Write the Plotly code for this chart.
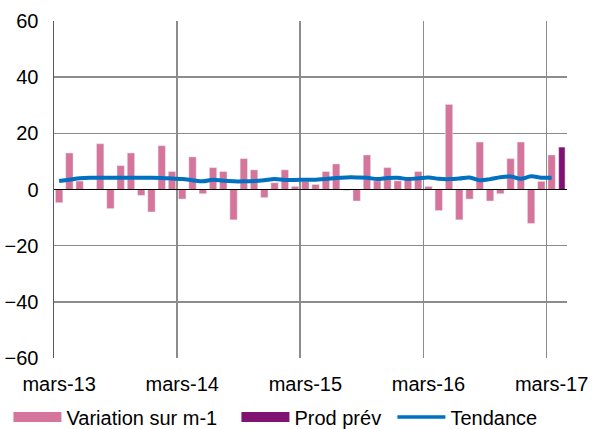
import plotly.graph_objects as go

# Monthly data: mars-13 .. mars-17 (49 months) + forecast avril-17
variation = [-4.7, 13.0, 3.0, 0.2, 16.3, -6.8, 8.5, 13.0, -2.1, -8.0, 15.6, 6.4,
             -3.4, 11.6, -1.5, 7.8, 6.4, -10.8, 11.0, 7.0, -2.9, 2.4, 7.0, 1.1,
             2.9, 1.8, 6.4, 9.1, -0.3, -4.1, 12.3, 3.1, 7.8, 3.1, 3.6, 6.4,
             1.1, -7.5, 30.3, -10.8, -3.4, 16.9, -4.1, -1.5, 11.0, 16.9, -12.1, 2.9,
             12.3]
tendance = [3.0, 3.5, 4.0, 4.2, 4.2, 4.2, 4.2, 4.2, 4.2, 4.2, 4.1, 3.9,
            3.7, 3.3, 2.9, 3.5, 3.1, 2.9, 2.9, 3.0, 3.3, 3.7, 3.4, 3.4,
            3.5, 3.5, 3.7, 4.1, 4.3, 4.3, 4.2, 3.7, 4.1, 4.2, 3.7, 4.0,
            4.3, 3.8, 3.7, 3.9, 4.3, 3.3, 3.7, 4.4, 4.6, 3.8, 4.7, 4.2,
            4.2]
prod_prev = [15.1]
tick_labels = ["mars-13", "mars-14", "mars-15", "mars-16", "mars-17"]

PINK = "#D5759B"
PURPLE = "#7F1273"
BLUE = "#0070C0"
FONT = "Liberation Sans, Arial, sans-serif"

n = len(variation)
x_var = list(range(n))
x_prev = [n + i for i in range(len(prod_prev))]

fig = go.Figure()
fig.add_trace(go.Bar(x=x_var, y=variation, marker_color=PINK, width=0.72,
                     showlegend=False, name="Variation sur m-1"))
fig.add_trace(go.Bar(x=x_prev, y=prod_prev, marker_color=PURPLE, width=0.62,
                     showlegend=False, name="Prod prév"))
fig.add_trace(go.Scatter(x=x_var, y=tendance, mode="lines",
                         line=dict(color=BLUE, width=4, shape="spline"),
                         showlegend=False, name="Tendance"))
# legend entries (each in its own legend box for exact placement)
fig.add_trace(go.Scatter(x=[None], y=[None], mode="lines", name="Variation sur m-1",
                         line=dict(color=PINK, width=10), legend="legend"))
fig.add_trace(go.Scatter(x=[None], y=[None], mode="lines", name="Prod prév",
                         line=dict(color=PURPLE, width=10), legend="legend2"))
fig.add_trace(go.Scatter(x=[None], y=[None], mode="lines", name="Tendance",
                         line=dict(color=BLUE, width=3.5), legend="legend3"))

W, H = 593, 429
total = n + len(prod_prev)
leg_common = dict(orientation="h", xref="container", yref="container",
                  y=0.028, xanchor="left", yanchor="middle",
                  itemwidth=48, font=dict(size=20), bgcolor="rgba(0,0,0,0)")
fig.update_layout(
    width=W, height=H, autosize=False,
    margin=dict(l=54, r=26, t=21, b=71, autoexpand=False),
    paper_bgcolor="white", plot_bgcolor="white",
    barmode="overlay",
    font=dict(family=FONT, size=20, color="#000000"),
    xaxis=dict(range=[-0.5, total - 0.5], automargin=False,
               tickvals=[0, 12, 24, 36, 48], ticktext=tick_labels,
               showgrid=False, zeroline=False, showline=False,
               ticks="", ticklabelstandoff=12,
               minor=dict(tickvals=[11.5, 23.5, 35.5, 47.5], showgrid=True,
                          gridcolor="#8C8C8C", gridwidth=1.5, ticks="")),
    yaxis=dict(range=[-60, 60], dtick=20, tick0=0, automargin=False,
               showgrid=True, gridcolor="#8C8C8C", gridwidth=1.5,
               zeroline=True, zerolinecolor="#000000", zerolinewidth=1.5,
               showline=True, linecolor="#5A5A5A", linewidth=1.5,
               ticks="", ticklabelstandoff=10),
    legend=dict(x=0.0142, **leg_common),
    legend2=dict(x=0.3987, **leg_common),
    legend3=dict(x=0.6617, **leg_common),
)
try:
    fig.update_yaxes(zerolinelayer="above traces")
except Exception:
    pass

fig.write_html("out.html",
               config={"displayModeBar": False, "staticPlot": True},
               post_script="document.body.style.margin='0px';"
                           "document.body.style.overflow='hidden';")
